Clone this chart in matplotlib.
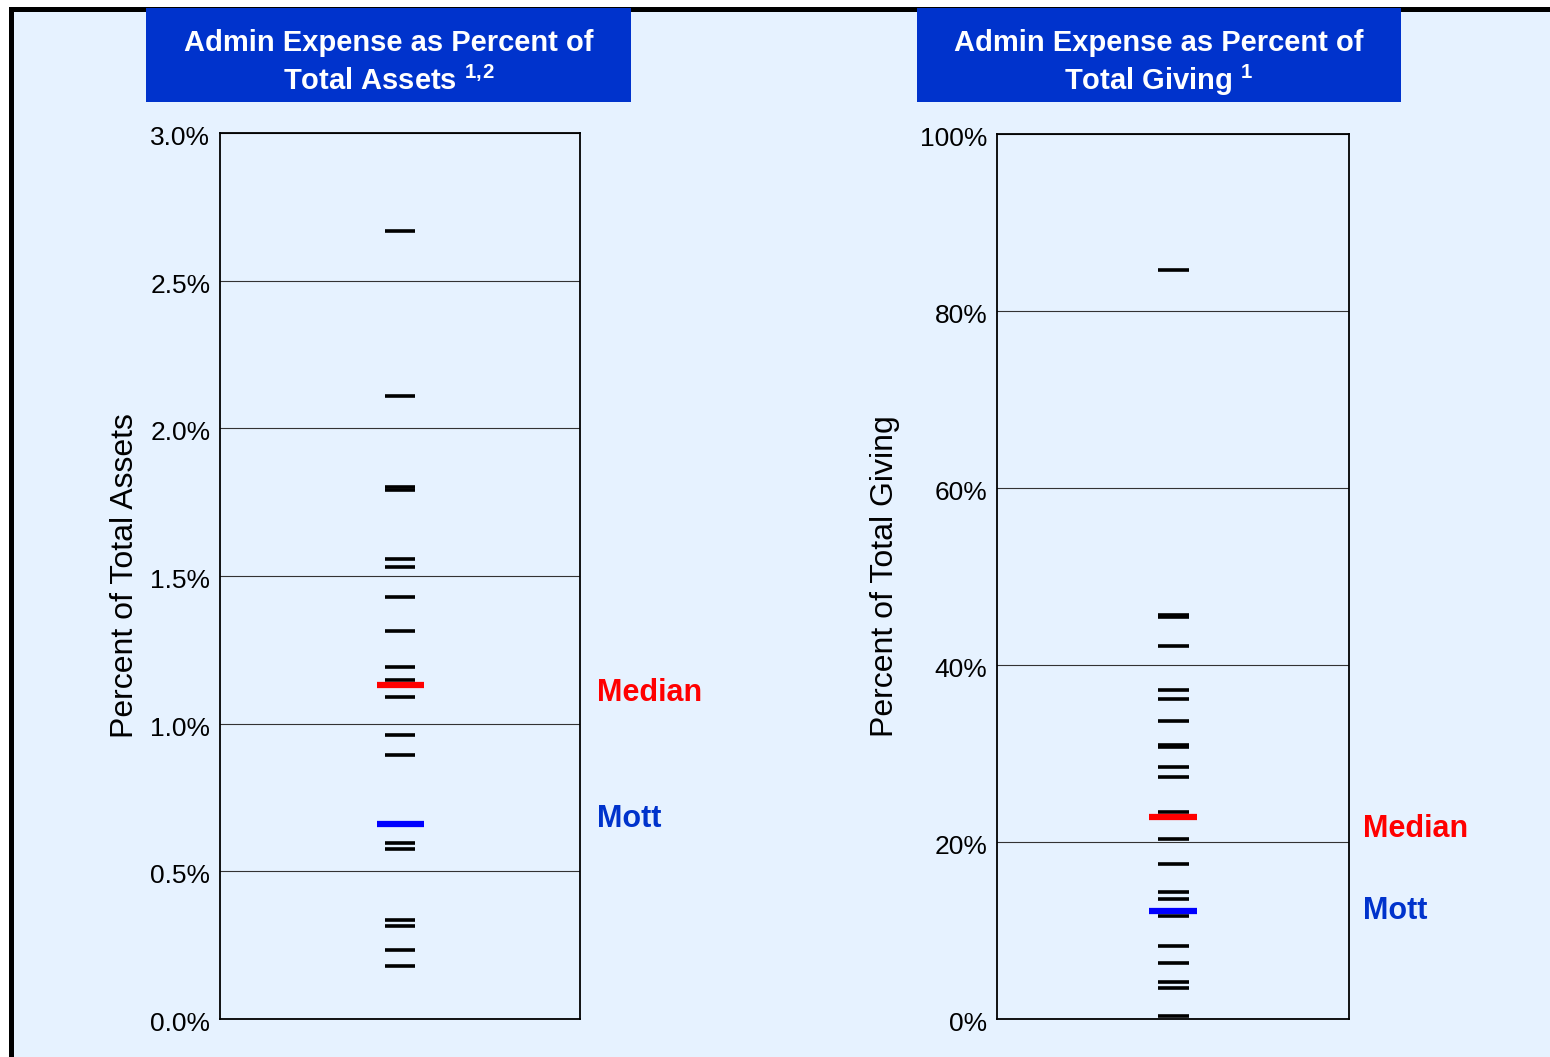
import matplotlib
matplotlib.use("Agg")
import matplotlib.pyplot as plt
from matplotlib.patches import Rectangle
from matplotlib.ticker import FuncFormatter
from matplotlib.transforms import ScaledTranslation

plt.rcParams['font.family'] = ['Liberation Sans', 'DejaVu Sans']
plt.rcParams['mathtext.fontset'] = 'custom'
plt.rcParams['mathtext.rm'] = 'Liberation Sans'
plt.rcParams['mathtext.bf'] = 'Liberation Sans:bold'

# admin expense / total assets (%), peer foundations
assets_peers = [2.667, 2.109, 1.80, 1.79, 1.559, 1.531, 1.430, 1.314, 1.193,
                1.148, 1.090, 0.961, 0.893, 0.597, 0.577, 0.335, 0.315,
                0.233, 0.179]
assets_median = 1.131
assets_mott = 0.660

# admin expense / total giving (%), peer foundations
giving_peers = [84.6, 45.7, 45.4, 42.2, 37.2, 36.2, 33.7, 31.0, 30.7, 28.5,
                27.3, 23.4, 20.3, 17.5, 14.4, 13.6, 11.6, 8.2, 6.3, 4.2,
                3.5, 0.3]
giving_median = 22.8
giving_mott = 12.2

bg = '#E6F2FF'
box_blue = '#0033CC'

fig = plt.figure(figsize=(15.5, 10.57), dpi=100)
fig.patch.set_facecolor('white')

# framed background
fig.patches.append(Rectangle((10.5 / 1550, -0.1), 1.2, 1.1 - 8.5 / 1057,
                             transform=fig.transFigure, facecolor=bg,
                             edgecolor='black', linewidth=3.6, zorder=-10))


def panel(rect, peers, median, mott, ymax, step, fmt, ylabel, w, lpad):
    ax = fig.add_axes(rect)
    ax.set_facecolor('none')
    ax.set_xlim(0, 1)
    ax.set_ylim(0, ymax)
    ax.set_yticks([step * i for i in range(int(round(ymax / step)) + 1)])
    ax.yaxis.set_major_formatter(FuncFormatter(fmt))
    ax.set_xticks([])
    ax.tick_params(axis='y', length=0, pad=7, labelsize=19)
    shift = ScaledTranslation(0, -2.5 / 100, fig.dpi_scale_trans)
    for t in ax.get_yticklabels():
        t.set_transform(t.get_transform() + shift)
    ax.grid(axis='y', color='#333333', linewidth=0.8)
    ax.set_axisbelow(True)
    for s in ax.spines.values():
        s.set_linewidth(1.3)
    ax.set_ylabel(ylabel, fontsize=23, labelpad=lpad)

    c = 0.5
    ax.hlines(peers, c - w / 2, c + w / 2, color='black', linewidth=2.6, zorder=3)
    wc = w * 47 / 30
    ax.hlines([median], c - wc / 2, c + wc / 2, color='#FF0000', linewidth=4.5, zorder=4)
    ax.hlines([mott], c - wc / 2, c + wc / 2, color='#0000FF', linewidth=4.5, zorder=4)
    return ax


def tag(ax, x, y, s, color, dy):
    ax.annotate(s, xy=(x, y), xycoords=ax.get_yaxis_transform(),
                xytext=(0, dy), textcoords='offset pixels',
                color=color, fontsize=22, fontweight='bold', va='center',
                annotation_clip=False)


axL = panel([220 / 1550, 1 - 1019 / 1057, 360 / 1550, 886 / 1057],
            assets_peers, assets_median, assets_mott, 3.0, 0.5,
            lambda v, p: f'{v:.1f}%', 'Percent of Total Assets', 30 / 360, 7.5)
tag(axL, 1.047, assets_median, 'Median', '#FF0000', -8)
tag(axL, 1.047, assets_mott, 'Mott', box_blue, 5)

axR = panel([997 / 1550, 1 - 1019 / 1057, 352 / 1550, 885 / 1057],
            giving_peers, giving_median, giving_mott, 100, 20,
            lambda v, p: f'{v:.0f}%', 'Percent of Total Giving', 31 / 352, 14.5)
tag(axR, 1.04, giving_median, 'Median', '#FF0000', -12)
tag(axR, 1.04, giving_mott, 'Mott', box_blue, 0)

# title boxes
titles = [(146, 631, 'Admin Expense as Percent of', r'Total Assets $^{\mathbf{1,\!2}}$'),
          (917, 1401, 'Admin Expense as Percent of', r'Total Giving $^{\mathbf{1}}$')]
for x0, x1, line1, line2 in titles:
    fig.patches.append(Rectangle((x0 / 1550, 1 - 102 / 1057), (x1 - x0) / 1550, 94 / 1057,
                                 transform=fig.transFigure, facecolor=box_blue,
                                 edgecolor='none', zorder=5))
    xc = (x0 + x1) / 2 / 1550
    for txt, yb in ((line1, 51), (line2, 90)):
        fig.text(xc, 1 - yb / 1057, txt, ha='center', va='baseline',
                 color='white', fontsize=21, fontweight='bold', zorder=6)

fig.savefig('out.png', dpi=100, facecolor=fig.get_facecolor())
